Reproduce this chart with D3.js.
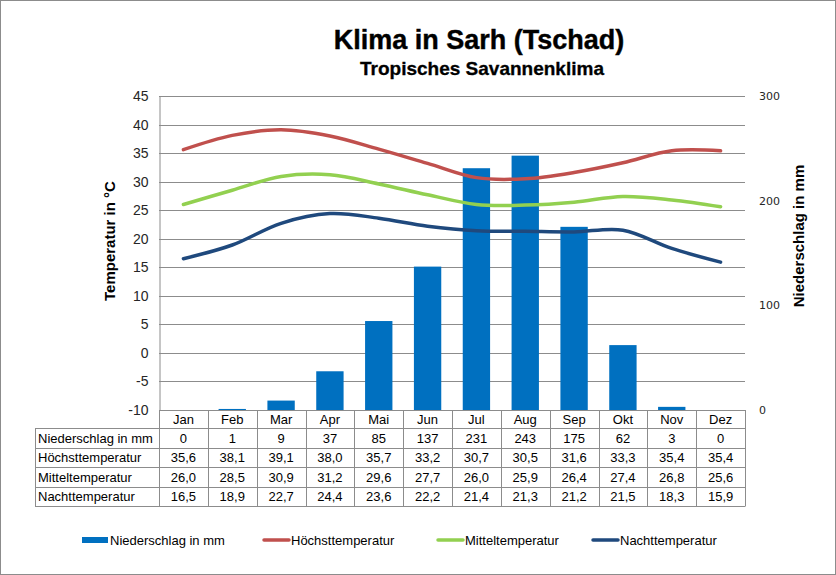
<!DOCTYPE html>
<html>
<head>
<meta charset="utf-8">
<script src="https://cdn.jsdelivr.net/npm/d3@7"></script>
<style>
  body { margin: 0; background: #fff; }
  text { font-family: "Liberation Sans", Arial, sans-serif; }
</style>
</head>
<body>
<div id="viz"></div>
<script>
// Data
const months = ["Jan", "Feb", "Mar", "Apr", "Mai", "Jun", "Jul", "Aug", "Sep", "Okt", "Nov", "Dez"];
const niederschlag = [0, 1, 9, 37, 85, 137, 231, 243, 175, 62, 3, 0];
const hoechst = [35.6, 38.1, 39.1, 38.0, 35.7, 33.2, 30.7, 30.5, 31.6, 33.3, 35.4, 35.4];
const mittel = [26.0, 28.5, 30.9, 31.2, 29.6, 27.7, 26.0, 25.9, 26.4, 27.4, 26.8, 25.6];
const nacht = [16.5, 18.9, 22.7, 24.4, 23.6, 22.2, 21.4, 21.3, 21.2, 21.5, 18.3, 15.9];
const tempTicks = [-10, -5, 0, 5, 10, 15, 20, 25, 30, 35, 40, 45];
const rainTicks = [0, 100, 200, 300];

const series = [
    { name: "Höchsttemperatur", values: hoechst, color: "#C0504D" },
    { name: "Mitteltemperatur", values: mittel, color: "#92D050" },
    { name: "Nachttemperatur", values: nacht, color: "#1F497D" }
];
const barColor = "#0070C0";
const gridColor = "#8c8c8c";

const width = 836;
const height = 575;
const plot = { left: 159, right: 745, top: 96, bottom: 410 };

const svg = d3.select("#viz")
    .append("svg")
    .attr("width", width)
    .attr("height", height)
    .style("background", "#fff");

// Outer border
svg.append("rect")
    .attr("x", 0.5).attr("y", 0.5)
    .attr("width", width - 1).attr("height", height - 1)
    .attr("fill", "none").attr("stroke", "#8c8c8c");

// Titles
svg.append("text")
    .attr("x", 479).attr("y", 49)
    .attr("text-anchor", "middle")
    .attr("font-size", 27).attr("font-weight", "bold")
    .attr("stroke", "#000").attr("stroke-width", 0.4)
    .text("Klima in Sarh (Tschad)");

svg.append("text")
    .attr("x", 482).attr("y", 75)
    .attr("text-anchor", "middle")
    .attr("font-size", 19).attr("font-weight", "bold")
    .attr("stroke", "#000").attr("stroke-width", 0.3)
    .text("Tropisches Savannenklima");

// Scales
const x = d3.scaleBand()
    .domain(months)
    .range([plot.left, plot.right]);

const yTemp = d3.scaleLinear()
    .domain([-10, 45])
    .range([plot.bottom, plot.top]);

const yRain = d3.scaleLinear()
    .domain([0, 300])
    .range([plot.bottom, plot.top]);

// Gridlines
svg.append("g")
    .selectAll("line")
    .data(tempTicks)
    .enter().append("line")
    .attr("x1", plot.left).attr("x2", plot.right)
    .attr("y1", d => Math.round(yTemp(d)) + 0.5)
    .attr("y2", d => Math.round(yTemp(d)) + 0.5)
    .attr("stroke", gridColor);

// Left axis
const leftAxis = svg.append("g")
    .attr("transform", `translate(${plot.left + 0.5},0)`)
    .call(d3.axisLeft(yTemp).tickValues(tempTicks).tickFormat(d => String(d)).tickSize(0).tickPadding(11));
leftAxis.select(".domain").attr("stroke", gridColor);
leftAxis.selectAll("text")
    .attr("font-size", 14)
    .attr("fill", "#262626")
    .style("font-family", "'Liberation Sans', Arial, sans-serif");

// Right axis
const rightAxis = svg.append("g")
    .attr("transform", `translate(${plot.right},0)`)
    .call(d3.axisRight(yRain).tickValues(rainTicks).tickSize(0).tickPadding(14));
rightAxis.select(".domain").remove();
rightAxis.selectAll("text")
    .attr("font-size", 11)
    .attr("fill", "#262626")
    .style("font-family", "'DejaVu Sans', sans-serif");

// Axis titles
svg.append("text")
    .attr("transform", "translate(115,241) rotate(-90)")
    .attr("text-anchor", "middle")
    .attr("font-size", 15).attr("font-weight", "bold")
    .text("Temperatur in °C");

svg.append("text")
    .attr("transform", "translate(804,236) rotate(-90)")
    .attr("text-anchor", "middle")
    .attr("font-size", 15).attr("font-weight", "bold")
    .text("Niederschlag in mm");

// Bars
const barW = x.bandwidth() * 0.56;
svg.append("g")
    .selectAll("rect")
    .data(niederschlag)
    .enter().append("rect")
    .attr("x", (d, i) => x(months[i]) + (x.bandwidth() - barW) / 2)
    .attr("y", d => yRain(d))
    .attr("width", barW)
    .attr("height", d => plot.bottom - yRain(d))
    .attr("fill", barColor);

// Lines
const line = d3.line()
    .x((d, i) => x(months[i]) + x.bandwidth() / 2)
    .y(d => yTemp(d))
    .curve(d3.curveCatmullRom.alpha(0.5));

svg.append("g")
    .selectAll("path")
    .data(series)
    .enter().append("path")
    .attr("d", d => line(d.values))
    .attr("fill", "none")
    .attr("stroke", d => d.color)
    .attr("stroke-width", 3.5)
    .attr("stroke-linecap", "round");

// Data table
const rowH = [18, 19.5, 19.5, 19.5, 19.5];
const rowY = [plot.bottom];
rowH.forEach(h => rowY.push(rowY[rowY.length - 1] + h));
const labelLeft = 35;
const rows = [
    { label: "Niederschlag in mm", values: niederschlag.map(String) },
    { label: "Höchsttemperatur", values: hoechst.map(v => v.toFixed(1).replace(".", ",")) },
    { label: "Mitteltemperatur", values: mittel.map(v => v.toFixed(1).replace(".", ",")) },
    { label: "Nachttemperatur", values: nacht.map(v => v.toFixed(1).replace(".", ",")) }
];

const table = svg.append("g").attr("stroke", gridColor).attr("fill", "none");
// horizontal lines
rowY.forEach((yy, i) => {
    table.append("line")
        .attr("x1", i === 0 ? plot.left : labelLeft).attr("x2", plot.right)
        .attr("y1", Math.round(yy) + 0.5).attr("y2", Math.round(yy) + 0.5);
});
// vertical lines
table.append("line")
    .attr("x1", labelLeft + 0.5).attr("x2", labelLeft + 0.5)
    .attr("y1", Math.round(rowY[1]) + 0.5).attr("y2", Math.round(rowY[5]) + 0.5);
months.concat(["end"]).forEach((m, i) => {
    const xx = m === "end" ? plot.right : x(m);
    table.append("line")
        .attr("x1", Math.round(xx) + 0.5).attr("x2", Math.round(xx) + 0.5)
        .attr("y1", rowY[0]).attr("y2", Math.round(rowY[5]) + 0.5);
});

svg.append("g")
    .selectAll("text")
    .data(months)
    .enter().append("text")
    .attr("x", d => x(d) + x.bandwidth() / 2)
    .attr("y", (rowY[0] + rowY[1]) / 2 + 5)
    .attr("text-anchor", "middle")
    .attr("font-size", 13)
    .text(d => d);

rows.forEach((r, ri) => {
    const cy = (rowY[ri + 1] + rowY[ri + 2]) / 2 + 5;
    svg.append("text")
        .attr("x", labelLeft + 3).attr("y", cy)
        .attr("font-size", 13)
        .text(r.label);
    svg.append("g")
        .selectAll("text")
        .data(r.values)
        .enter().append("text")
        .attr("x", (d, i) => x(months[i]) + x.bandwidth() / 2)
        .attr("y", cy)
        .attr("text-anchor", "middle")
        .attr("font-size", 13)
        .text(d => d);
});

// Legend
const legendItems = [
    { name: "Niederschlag in mm", color: barColor, type: "bar", x: 82 },
    { name: series[0].name, color: series[0].color, type: "line", x: 263 },
    { name: series[1].name, color: series[1].color, type: "line", x: 437 },
    { name: series[2].name, color: series[2].color, type: "line", x: 592 }
];
const legend = svg.append("g");
legendItems.forEach(it => {
    if (it.type === "bar") {
        legend.append("rect")
            .attr("x", it.x).attr("y", 537)
            .attr("width", 26).attr("height", 6)
            .attr("fill", it.color);
    } else {
        legend.append("line")
            .attr("x1", it.x + 1).attr("x2", it.x + 26)
            .attr("y1", 540).attr("y2", 540)
            .attr("stroke", it.color).attr("stroke-width", 3.5)
            .attr("stroke-linecap", "round");
    }
    legend.append("text")
        .attr("x", it.x + 28).attr("y", 544.5)
        .attr("font-size", 13)
        .text(it.name);
});
</script>
</body>
</html>
